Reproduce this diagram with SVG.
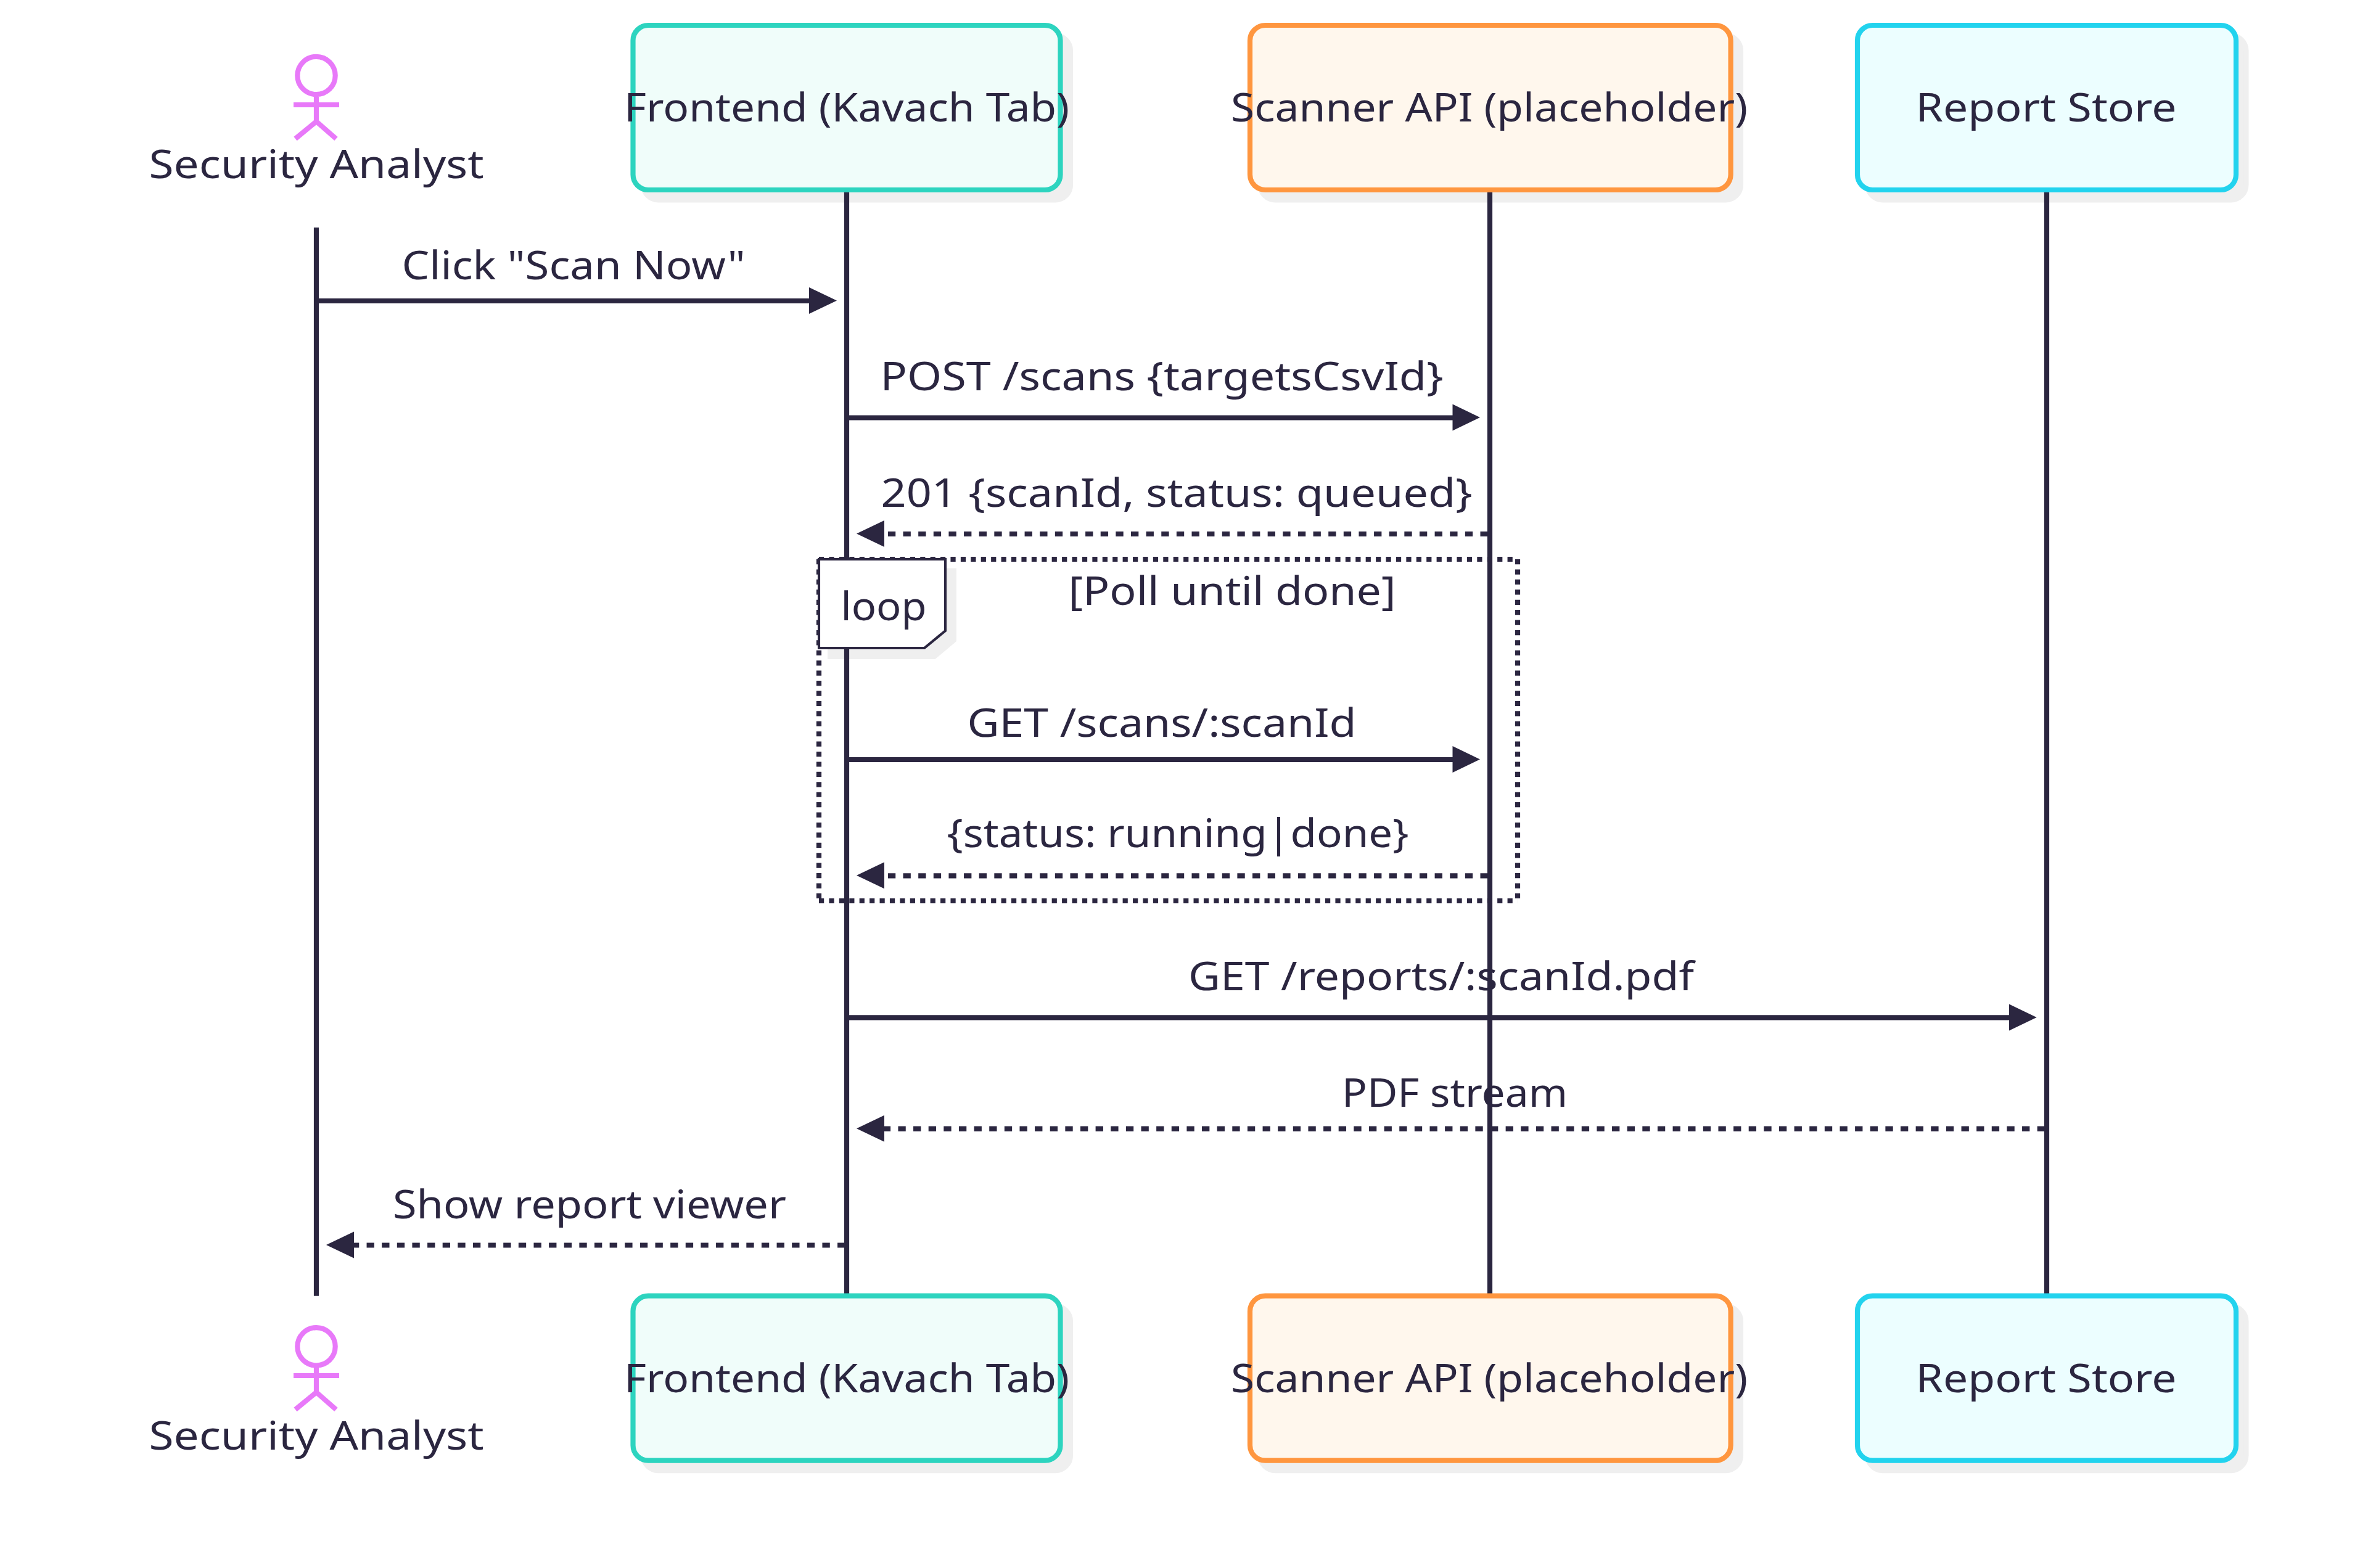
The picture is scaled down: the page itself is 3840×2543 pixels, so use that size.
<svg xmlns="http://www.w3.org/2000/svg" width="3840" height="2543" viewBox="0 0 3840 2543">
<style>
text{font-family:"Noto Sans","Open Sans",sans-serif;font-size:64px;fill:#2b2640;text-anchor:middle}
.life{stroke:#2b2640;stroke-width:8.2;fill:none}
.msg{stroke:#2b2640;stroke-width:8.2;fill:none}
.dash{stroke-dasharray:12.315 12.315}
.dot{stroke:#2b2640;stroke-width:8.2;stroke-dasharray:8.21 8.21;fill:none}
.head{fill:#2b2640;stroke:none}
.shadow{fill:#efefef;stroke:#efefef;stroke-width:8.2}
.box{stroke-width:8.2}
.actor{stroke:#e879f9;stroke-width:8.2;fill:none}
.teal{fill:#f0fdfa;stroke:#2dd4bf}
.orange{fill:#fff7ed;stroke:#ff963f}
.cyan{fill:#ecfeff;stroke:#22d3ee}
</style>
<rect width="3840" height="2543" fill="#fff"/>
<g id="shadows">
<rect class="shadow" x="1043" y="57.4" width="693" height="267" rx="24.7"/>
<rect class="shadow" x="2043.4" y="57.4" width="779.6" height="267" rx="24.7"/>
<rect class="shadow" x="3028.4" y="57.4" width="614" height="267" rx="24.7"/>
<rect class="shadow" x="1043" y="2118.1" width="693" height="267" rx="24.7"/>
<rect class="shadow" x="2043.4" y="2118.1" width="779.6" height="267" rx="24.7"/>
<rect class="shadow" x="3028.4" y="2118.1" width="614" height="267" rx="24.7"/>
<path fill="#efefef" d="M1342 921.5H1551V1040L1516.5 1069H1342Z"/>
</g>
<g id="connectors">
<line class="life" x1="513" y1="369" x2="513" y2="2101.7"/>
<line class="life" x1="1373" y1="312" x2="1373" y2="2101.7"/>
<line class="life" x1="2416" y1="312" x2="2416" y2="2101.7"/>
<line class="life" x1="3319" y1="312" x2="3319" y2="2101.7"/>
</g>
<g id="node-analyst-top">
<circle class="actor" cx="513" cy="122.5" r="30.7"/>
<path class="actor" d="M513 157V197M476 170H550M513 197L479 225M513 197L545 225"/>
<text x="513" y="289.4" textLength="543" lengthAdjust="spacingAndGlyphs">Security Analyst</text>
</g>
<g id="node-frontend-top">
<rect class="box teal" x="1026.5" y="41" width="693" height="267" rx="24.7"/>
<text x="1373" y="196.5" textLength="722" lengthAdjust="spacingAndGlyphs">Frontend (Kavach Tab)</text>
</g>
<g id="node-scanner-top">
<rect class="box orange" x="2027" y="41" width="779.6" height="267" rx="24.7"/>
<text x="2415" y="196.5" textLength="838" lengthAdjust="spacingAndGlyphs">Scanner API (placeholder)</text>
</g>
<g id="node-report-top">
<rect class="box cyan" x="3012" y="41" width="614" height="267" rx="24.7"/>
<text x="3318" y="196.5" textLength="423" lengthAdjust="spacingAndGlyphs">Report Store</text>
</g>
<g id="node-analyst-bottom">
<circle class="actor" cx="513" cy="2183.8" r="30.7"/>
<path class="actor" d="M513 2218V2258M476 2231H550M513 2258L479 2286M513 2258L545 2286"/>
<text x="513" y="2350.7" textLength="543" lengthAdjust="spacingAndGlyphs">Security Analyst</text>
</g>
<g id="node-frontend-bottom">
<rect class="box teal" x="1026.5" y="2101.7" width="693" height="267" rx="24.7"/>
<text x="1373" y="2257.7" textLength="722" lengthAdjust="spacingAndGlyphs">Frontend (Kavach Tab)</text>
</g>
<g id="node-scanner-bottom">
<rect class="box orange" x="2027" y="2101.7" width="779.6" height="267" rx="24.7"/>
<text x="2415" y="2257.7" textLength="838" lengthAdjust="spacingAndGlyphs">Scanner API (placeholder)</text>
</g>
<g id="node-report-bottom">
<rect class="box cyan" x="3012" y="2101.7" width="614" height="267" rx="24.7"/>
<text x="3318" y="2257.7" textLength="423" lengthAdjust="spacingAndGlyphs">Report Store</text>
</g>
<g id="node-loop">
<line class="dot" x1="1328" y1="907" x2="2461" y2="907"/>
<line class="dot" x1="2461" y1="907" x2="2461" y2="1461"/>
<line class="dot" x1="1328" y1="1461" x2="2461" y2="1461"/>
<line class="dot" x1="1328" y1="907" x2="1328" y2="1461"/>
<path d="M1328 907H1533V1023L1499 1051H1328Z" fill="#fff" stroke="#2b2640" stroke-width="4.1"/>
<text x="1433" y="1006" textLength="139" lengthAdjust="spacingAndGlyphs">loop</text>
<text x="1998" y="981" textLength="531" lengthAdjust="spacingAndGlyphs">[Poll until done]</text>
</g>
<g id="messages">
<text x="930" y="453" textLength="557" lengthAdjust="spacingAndGlyphs">Click "Scan Now"</text>
<line class="msg" x1="517" y1="488" x2="1313" y2="488"/><path class="head" d="M1312 466L1357 487.5L1312 509Z"/>
<text x="1884" y="632.7" textLength="913" lengthAdjust="spacingAndGlyphs">POST /scans {targetsCsvId}</text>
<line class="msg" x1="1377" y1="677.5" x2="2356" y2="677.5"/><path class="head" d="M2355.5 655.5L2400 677L2355.5 698.5Z"/>
<text x="1908" y="821.7" textLength="959" lengthAdjust="spacingAndGlyphs">201 {scanId, status: queued}</text>
<line class="msg dash" x1="2412.8" y1="866" x2="1434" y2="866"/><path class="head" d="M1434 844L1389 865.5L1434 887Z"/>
<text x="1884" y="1195" textLength="631" lengthAdjust="spacingAndGlyphs">GET /scans/:scanId</text>
<line class="msg" x1="1377" y1="1232" x2="2356" y2="1232"/><path class="head" d="M2355.5 1210L2400 1231.5L2355.5 1253Z"/>
<text x="1910" y="1374" textLength="749" lengthAdjust="spacingAndGlyphs">{status: running|done}</text>
<line class="msg dash" x1="2412.8" y1="1420.3" x2="1434" y2="1420.3"/><path class="head" d="M1434 1398.3L1389 1419.8L1434 1441.3Z"/>
<text x="2337" y="1606" textLength="820" lengthAdjust="spacingAndGlyphs">GET /reports/:scanId.pdf</text>
<line class="msg" x1="1377" y1="1650.3" x2="3259" y2="1650.3"/><path class="head" d="M3258 1628.5L3302.7 1650L3258 1671.5Z"/>
<text x="2359" y="1795" textLength="366" lengthAdjust="spacingAndGlyphs">PDF stream</text>
<line class="msg dash" x1="3316" y1="1830.7" x2="1434" y2="1830.7"/><path class="head" d="M1434 1808.7L1389 1830.2L1434 1851.7Z"/>
<text x="956" y="1976" textLength="638" lengthAdjust="spacingAndGlyphs">Show report viewer</text>
<line class="msg dash" x1="1370.4" y1="2019.5" x2="574" y2="2019.5"/><path class="head" d="M574 1997.5L529 2019L574 2040.5Z"/>
</g>
</svg>
